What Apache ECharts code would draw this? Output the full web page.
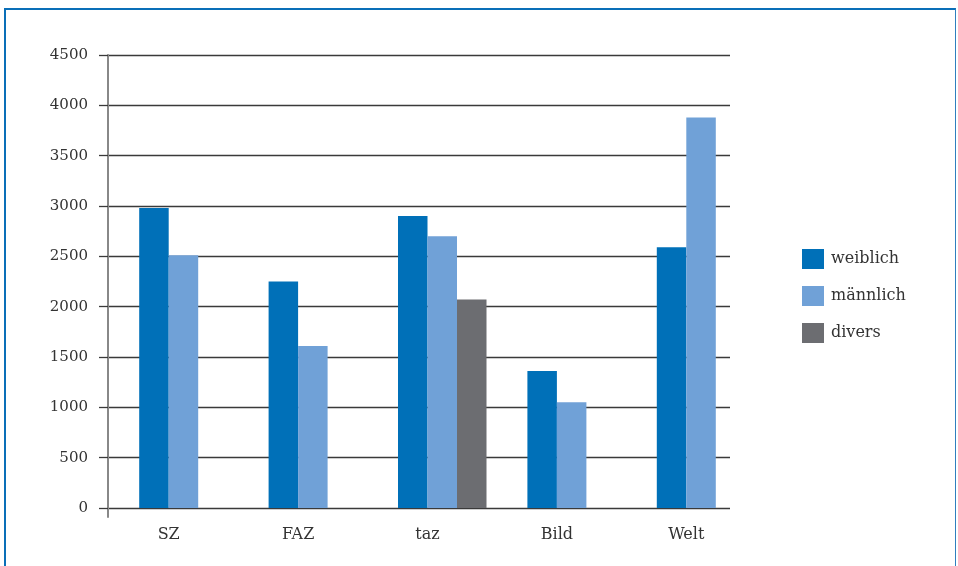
<!DOCTYPE html>
<html>
<head>
<meta charset="utf-8">
<script src="https://cdn.jsdelivr.net/npm/echarts@6/dist/echarts.min.js"></script>
<style>
html,body{margin:0;padding:0;background:#fff;}
#frame{position:absolute;left:4px;top:8px;width:949px;height:600px;border-top:2px solid #0a6fb8;border-left:2px solid #0a6fb8;border-right:1.5px solid #2f7fbf;}
#chart{position:absolute;left:0;top:0;width:958px;height:566px;}
</style>
</head>
<body>
<div id="frame"></div>
<div id="chart"></div>
<script>
const categories = ['SZ', 'FAZ', 'taz', 'Bild', 'Welt'];
const weiblich = [2980, 2250, 2900, 1360, 2590];
const maennlich = [2510, 1610, 2700, 1050, 3880];
const divers = [null, null, 2070, null, null];
const yTicks = [0, 500, 1000, 1500, 2000, 2500, 3000, 3500, 4000, 4500];
const seriesNames = ['weiblich', 'männlich', 'divers'];

const FONT = 'DejaVu Serif';
const yMin = yTicks[0], yMax = yTicks[yTicks.length - 1], yStep = yTicks[1] - yTicks[0];

const chart = echarts.init(document.getElementById('chart'), null, {renderer: 'canvas'});
chart.setOption({
  animation: false,
  backgroundColor: 'transparent',
  legend: {
    orient: 'vertical', left: 797, top: 244,
    itemWidth: 22, itemHeight: 20, itemGap: 17,
    icon: 'rect',
    data: seriesNames,
    textStyle: {fontFamily: FONT, fontSize: 16, color: '#333', padding: [0, 0, 0, 2]}
  },
  grid: [
    {left: 104, right: 207, top: 55, bottom: 58},
    {left: 108, right: 228, top: 55, bottom: 58},
    {left: 108, width: 1, top: 508, height: 9}
  ],
  xAxis: [
    {type: 'category', gridIndex: 0, data: categories,
     axisLine: {show: false}, axisTick: {show: false},
     axisLabel: {fontFamily: FONT, fontSize: 16, color: '#333', margin: 19}},
    {type: 'category', gridIndex: 1, data: categories, show: false},
    {type: 'value', gridIndex: 2, show: false}
  ],
  yAxis: [
    {type: 'value', gridIndex: 0, min: yMin, max: yMax, interval: yStep, show: false},
    {type: 'value', gridIndex: 1, min: yMin, max: yMax, interval: yStep,
     axisLine: {show: true, lineStyle: {color: '#888', width: 2}},
     axisTick: {show: true, length: 9, lineStyle: {color: '#3a3a3a', width: 1.3}},
     splitLine: {show: true, lineStyle: {color: '#3a3a3a', width: 1.3}},
     axisLabel: {fontFamily: FONT, fontSize: 15, color: '#333', margin: 20, formatter: function (v) { return String(v); }}},
    {type: 'value', gridIndex: 2, min: 0, max: 1,
     axisLine: {show: true, lineStyle: {color: '#888', width: 2}},
     axisTick: {show: false}, axisLabel: {show: false}, splitLine: {show: false}}
  ],
  series: [
    {type: 'bar', name: '_spacer', xAxisIndex: 0, yAxisIndex: 0, data: categories.map(() => null), barWidth: 29.5, barGap: '0%', silent: true},
    {type: 'bar', name: seriesNames[0], xAxisIndex: 0, yAxisIndex: 0, data: weiblich, barWidth: 29.5, barGap: '0%', itemStyle: {color: '#0070b8'}},
    {type: 'bar', name: seriesNames[1], xAxisIndex: 0, yAxisIndex: 0, data: maennlich, barWidth: 29.5, barGap: '0%', itemStyle: {color: '#70a1d7'}},
    {type: 'bar', name: seriesNames[2], xAxisIndex: 0, yAxisIndex: 0, data: divers, barWidth: 29.5, barGap: '0%', itemStyle: {color: '#6c6d71'}}
  ]
});
</script>
</body>
</html>
